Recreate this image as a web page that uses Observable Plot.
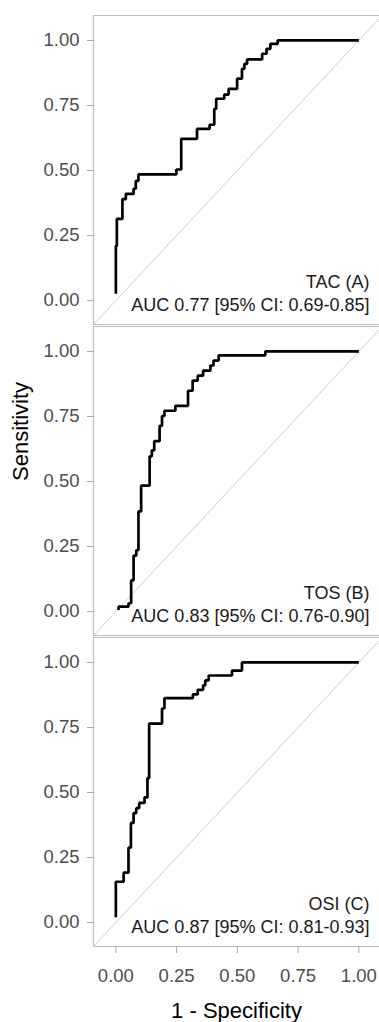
<!DOCTYPE html>
<html>
<head>
<meta charset="utf-8">
<script src="https://cdn.jsdelivr.net/npm/d3@7"></script>
<script src="https://cdn.jsdelivr.net/npm/@observablehq/plot@0.6"></script>
<style>
  html, body { margin: 0; padding: 0; background: white; }
  #chart svg { display: block; }
</style>
</head>
<body>
<div id="chart"></div>
<script>
// ---- data ----
const panels = ["TAC (A)", "TOS (B)", "OSI (C)"];
const aucLabels = [
  "AUC 0.77 [95% CI: 0.69-0.85]",
  "AUC 0.83 [95% CI: 0.76-0.90]",
  "AUC 0.87 [95% CI: 0.81-0.93]"
];
const tickValues = [0, 0.25, 0.5, 0.75, 1];
const xTitle = "1 - Specificity";
const yTitle = "Sensitivity";

// ROC corner points (1 - specificity, sensitivity), drawn as step-before
const tacFpr = [0, 0.004, 0.027, 0.041, 0.073, 0.082, 0.093, 0.249, 0.269, 0.334, 0.386, 0.405, 0.413, 0.446, 0.464, 0.499, 0.519, 0.529, 0.540, 0.602, 0.620, 0.636, 0.666, 1];
const tacTpr = [0.026, 0.21, 0.314, 0.39, 0.41, 0.43, 0.46, 0.485, 0.504, 0.622, 0.66, 0.676, 0.737, 0.776, 0.792, 0.814, 0.853, 0.891, 0.91, 0.927, 0.949, 0.968, 0.987, 1];

const tosFpr = [0.011, 0.052, 0.063, 0.073, 0.084, 0.093, 0.104, 0.139, 0.148, 0.158, 0.180, 0.190, 0.200, 0.245, 0.297, 0.316, 0.337, 0.359, 0.389, 0.402, 0.423, 0.615, 1];
const tosTpr = [0.006, 0.019, 0.032, 0.12, 0.215, 0.236, 0.385, 0.484, 0.597, 0.62, 0.655, 0.714, 0.752, 0.772, 0.791, 0.849, 0.888, 0.907, 0.926, 0.946, 0.965, 0.985, 1];

const osiFpr = [0, 0.032, 0.052, 0.062, 0.073, 0.084, 0.096, 0.118, 0.130, 0.137, 0.190, 0.200, 0.317, 0.337, 0.359, 0.368, 0.382, 0.478, 0.519, 1];
const osiTpr = [0.02, 0.157, 0.192, 0.288, 0.383, 0.421, 0.44, 0.46, 0.481, 0.555, 0.765, 0.823, 0.863, 0.877, 0.895, 0.912, 0.931, 0.95, 0.969, 1];

// ---- layout constants ----
const xDomain = [-0.092, 1.085];
const yDomain = [-0.092, 1.096];

const fprs = [tacFpr, tosFpr, osiFpr];
const tprs = [tacTpr, tosTpr, osiTpr];
const rows = panels.flatMap((p, i) => fprs[i].map((x, j) => ({panel: p, x, y: tprs[i][j]})));
const labels = panels.map((p, i) => ({panel: p, name: p, auc: aucLabels[i]}));
const diag = [{v: -0.5}, {v: 1.5}];

const grey = "#bdbdbd";

const chart = Plot.plot({
  width: 379,
  height: 1022,
  marginLeft: 93,
  marginRight: 0,
  marginTop: 15,
  marginBottom: 76,
  style: {fontFamily: "'Liberation Sans', Arial, sans-serif", background: "white", overflow: "visible"},
  x: {domain: xDomain},
  y: {domain: yDomain},
  fy: {domain: panels, axis: null, paddingInner: 0.0065, paddingOuter: 0},
  marks: [
    Plot.line(diag, {x: "v", y: "v", stroke: "#c8c8c8", strokeWidth: 0.9, clip: true}),
    Plot.ruleX([xDomain[0]], {stroke: grey, strokeWidth: 1.2}),
    Plot.ruleY([yDomain[0], yDomain[1]], {stroke: grey, strokeWidth: 1.2}),
    Plot.axisY({ticks: tickValues, tickFormat: ".2f", tickSize: 6, tickPadding: 8, stroke: "#a8a8a8", fill: "#4d4d4d", fontSize: 18.5, label: null}),
    Plot.axisX({ticks: tickValues, tickFormat: ".2f", tickSize: 7, tickPadding: 15, stroke: "#a8a8a8", fill: "#4d4d4d", fontSize: 18.5, label: null, facetAnchor: "bottom"}),
    Plot.line(rows, {x: "x", y: "y", fy: "panel", curve: "step-before", stroke: "black", strokeWidth: 2.7, strokeLinejoin: "miter", strokeLinecap: "butt"}),
    Plot.text(labels, {fy: "panel", text: "name", frameAnchor: "bottom-right", textAnchor: "end", lineAnchor: "middle", dx: -10, dy: -42, fontSize: 18, fill: "#1a1a1a"}),
    Plot.text(labels, {fy: "panel", text: "auc", frameAnchor: "bottom-right", textAnchor: "end", lineAnchor: "middle", dx: -10, dy: -19, fontSize: 18, fill: "#1a1a1a"}),
    Plot.text([{panel: panels[1], t: yTitle}], {fy: "panel", text: "t", frameAnchor: "left", rotate: -90, dx: -73, fontSize: 22, fill: "black", lineAnchor: "middle"}),
    Plot.text([{panel: panels[2], t: xTitle}], {fy: "panel", text: "t", frameAnchor: "bottom", dy: 64, fontSize: 22, fill: "black", lineAnchor: "middle"})
  ]
});
document.getElementById("chart").appendChild(chart);
</script>
</body>
</html>
